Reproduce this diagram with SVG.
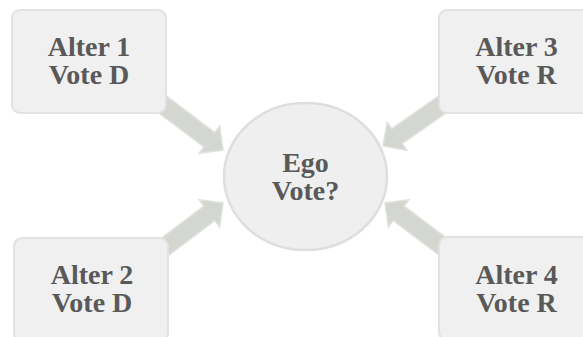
<svg xmlns="http://www.w3.org/2000/svg" width="583" height="337" viewBox="0 0 583 337">
<defs>
<style>
.box{fill:#f0f0f0;stroke:#e2e2e2;stroke-width:2}
.ell{fill:#efefef;stroke:#dedede;stroke-width:2.5}
.arr{fill:#d4d6d2;stroke:#dfe1dd;stroke-width:1.5;stroke-linejoin:miter}
.t{font-family:"Liberation Serif","Times New Roman",serif;font-weight:bold;font-size:28px;fill:#595959;text-anchor:middle}
</style>
<polygon id="arrowShape" class="arr" points="-110,-9 -17,-9 -17,-17 0,0 -17,17 -17,9 -110,9"/>
</defs>
<rect width="583" height="337" fill="#ffffff"/>
<g id="connectors">
<use href="#arrowShape" transform="translate(223,150) rotate(37)"/>
<use href="#arrowShape" transform="translate(223,203) rotate(-37)"/>
<use href="#arrowShape" transform="translate(383,146) rotate(145)"/>
<use href="#arrowShape" transform="translate(385,203) rotate(217)"/>
</g>
<g id="alter1">
<rect class="box" x="12" y="10" width="154" height="103" rx="8"/>
<text class="t" x="89" y="56">Alter 1</text>
<text class="t" x="89" y="84">Vote D</text>
</g>
<g id="alter3">
<rect class="box" x="439" y="10" width="155" height="103" rx="8"/>
<text class="t" x="516.5" y="56">Alter 3</text>
<text class="t" x="516.5" y="84">Vote R</text>
</g>
<g id="alter2">
<rect class="box" x="14" y="238" width="154" height="103" rx="8"/>
<text class="t" x="92" y="284">Alter 2</text>
<text class="t" x="92" y="312">Vote D</text>
</g>
<g id="alter4">
<rect class="box" x="439" y="237" width="155" height="103" rx="8"/>
<text class="t" x="516.5" y="284">Alter 4</text>
<text class="t" x="516.5" y="312">Vote R</text>
</g>
<g id="ego">
<ellipse class="ell" cx="305.5" cy="176.5" rx="81.5" ry="73.5"/>
<text class="t" x="305.5" y="172">Ego</text>
<text class="t" x="305.5" y="200">Vote?</text>
</g>
</svg>
